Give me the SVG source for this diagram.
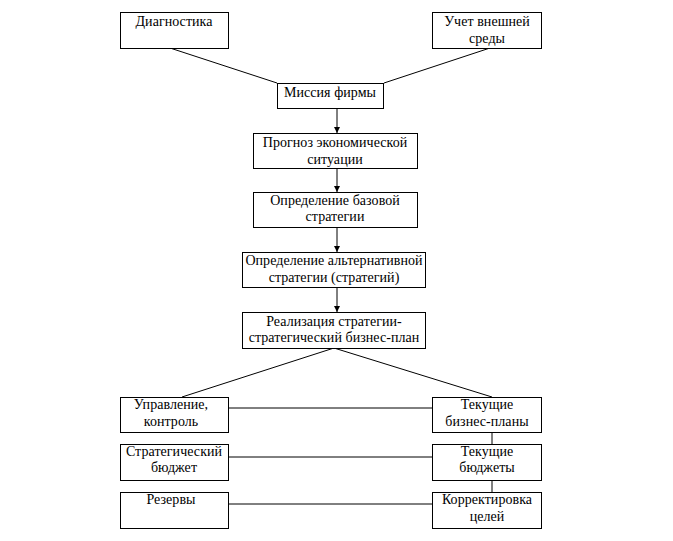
<svg xmlns="http://www.w3.org/2000/svg" width="673" height="541" viewBox="0 0 673 541">
<defs>
<marker id="arr" viewBox="0 0 10 10" refX="10" refY="5" markerWidth="6" markerHeight="7" markerUnits="userSpaceOnUse" orient="auto"><path d="M0,0 L10,5 L0,10 Z" fill="#000"/></marker>
<style>
rect{fill:#fff;stroke:#000;stroke-width:1}
.c line{stroke:#000;stroke-width:1}
</style>
</defs>
<rect x="0" y="0" width="673" height="541" style="stroke:none"/>
<g class="c" id="connectors">
<line x1="170" y1="48" x2="277" y2="83"/>
<line x1="490" y1="48" x2="384" y2="83"/>
<line x1="337" y1="108" x2="337" y2="133" marker-end="url(#arr)"/>
<line x1="337" y1="168" x2="337" y2="192" marker-end="url(#arr)"/>
<line x1="337" y1="227" x2="337" y2="252" marker-end="url(#arr)"/>
<line x1="337" y1="287" x2="337" y2="312" marker-end="url(#arr)"/>
<line x1="334" y1="348" x2="182" y2="397"/>
<line x1="334" y1="348" x2="492" y2="397"/>
<line x1="228" y1="408" x2="432" y2="408"/>
<line x1="228" y1="457" x2="432" y2="457"/>
<line x1="228" y1="504" x2="432" y2="504"/>
<line x1="492" y1="432" x2="492" y2="444"/>
<line x1="492" y1="480" x2="492" y2="493"/>
</g>
<g font-size="14" letter-spacing="0.05" text-anchor="middle" fill="#000">
<g id="n1"><rect x="120.5" y="12.5" width="108" height="36"/><text font-family="Liberation Serif" x="174" y="26">Диагностика</text></g>
<g id="n2"><rect x="432.5" y="12.5" width="109" height="36"/><text font-family="Liberation Serif" x="487" y="26">Учет внешней</text><text font-family="Liberation Serif" x="487" y="43">среды</text></g>
<g id="n3"><rect x="277.5" y="83.5" width="106" height="25"/><text font-family="Liberation Serif" x="330" y="97">Миссия фирмы</text></g>
<g id="n4"><rect x="253.5" y="133.5" width="164" height="35"/><text font-family="Liberation Serif" x="335" y="147">Прогноз экономической</text><text font-family="Liberation Serif" x="335" y="164">ситуации</text></g>
<g id="n5"><rect x="253.5" y="192.5" width="164" height="35"/><text font-family="Liberation Serif" x="335" y="205">Определение базовой</text><text font-family="Liberation Serif" x="335" y="221">стратегии</text></g>
<g id="n6"><rect x="242.5" y="252.5" width="183" height="35"/><text font-family="Liberation Serif" x="334" y="265">Определение альтернативной</text><text font-family="Liberation Serif" x="334" y="282">стратегии (стратегий)</text></g>
<g id="n7"><rect x="242.5" y="312.5" width="183" height="36"/><text font-family="Liberation Serif" x="334" y="326">Реализация стратегии-</text><text font-family="Liberation Serif" x="334" y="342">стратегический бизнес-план</text></g>
<g id="n8"><rect x="120.5" y="397.5" width="108" height="35"/><text font-family="Liberation Serif" x="171" y="409">Управление,</text><text font-family="Liberation Serif" x="171" y="426">контроль</text></g>
<g id="n9"><rect x="432.5" y="397.5" width="109" height="35"/><text font-family="Liberation Serif" x="487" y="409">Текущие</text><text font-family="Liberation Serif" x="487" y="426">бизнес-планы</text></g>
<g id="n10"><rect x="120.5" y="444.5" width="108" height="36"/><text font-family="Liberation Serif" x="174" y="456">Стратегический</text><text font-family="Liberation Serif" x="174" y="472">бюджет</text></g>
<g id="n11"><rect x="432.5" y="444.5" width="109" height="36"/><text font-family="Liberation Serif" x="487" y="456">Текущие</text><text font-family="Liberation Serif" x="487" y="472">бюджеты</text></g>
<g id="n12"><rect x="120.5" y="492.5" width="108" height="36"/><text font-family="Liberation Serif" x="171" y="504">Резервы</text></g>
<g id="n13"><rect x="432.5" y="492.5" width="109" height="36"/><text font-family="Liberation Serif" x="487" y="504">Корректировка</text><text font-family="Liberation Serif" x="487" y="521">целей</text></g>
</g>
</svg>
